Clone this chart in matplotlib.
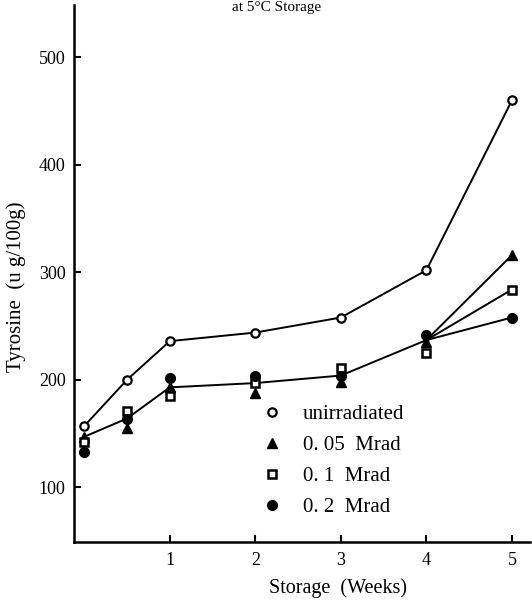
import matplotlib
matplotlib.use("Agg")
import matplotlib.pyplot as plt

# ---- data ----
weeks = [0, 0.5, 1, 2, 3, 4, 5]
unirradiated = [157, 200, 236, 244, 258, 302, 460]
mrad_005 = [147, 155, 193, 188, 198, 235, 316]
mrad_01 = [142, 171, 185, 197, 211, 225, 284]
mrad_02 = [133, 164, 202, 204, 204, 242, 258]
# common line drawn through the irradiated samples up to week 4
irr_weeks = [0, 0.5, 1, 2, 3, 4]
irr_line = [147, 164, 193, 197, 204, 237]

labels = ["unirradiated", "0. 05  Mrad", "0. 1  Mrad", "0. 2  Mrad"]
xticks = [1, 2, 3, 4, 5]
yticks = [100, 200, 300, 400, 500]

serif = ["Liberation Serif", "DejaVu Serif"]

fig = plt.figure(figsize=(5.32, 6.03), dpi=100)
ax = fig.add_axes([0.139, 0.101, 0.857, 0.891])

lw = 1.4
ax.plot(weeks, unirradiated, color="black", lw=lw, zorder=2)
ax.plot(irr_weeks, irr_line, color="black", lw=lw, zorder=2)
for series in (mrad_005, mrad_01, mrad_02):
    ax.plot([irr_weeks[-1], weeks[-1]], [irr_line[-1], series[-1]],
            color="black", lw=lw, zorder=2)

h0, = ax.plot(weeks, unirradiated, ls="none", marker="o", ms=6,
              mfc="white", mec="black", mew=1.6, zorder=3)
h1, = ax.plot(weeks, mrad_005, ls="none", marker="^", ms=7,
              mfc="black", mec="black", zorder=3)
h2, = ax.plot(weeks, mrad_01, ls="none", marker="s", ms=5.5,
              mfc="white", mec="black", mew=1.8, zorder=3)
h3, = ax.plot(weeks, mrad_02, ls="none", marker="o", ms=7,
              mfc="black", mec="black", zorder=3)

ax.set_xlim(-0.12, 5.21)
ax.set_ylim(49, 549)

for s in ("top", "right"):
    ax.spines[s].set_visible(False)
for s in ("left", "bottom"):
    ax.spines[s].set_linewidth(1.8)

ax.set_xticks(xticks)
ax.set_yticks(yticks)
ax.set_xticklabels([str(t) for t in xticks], family=serif, fontsize=13)
ax.set_yticklabels([str(t) for t in yticks], family=serif, fontsize=13)
ax.tick_params(direction="in", length=5, width=1.5)
ax.tick_params(axis="x", pad=7)
ax.tick_params(axis="y", pad=6)

ax.set_xlabel("Storage  (Weeks)", family=serif, fontsize=14.5)
ax.xaxis.set_label_coords(0.58, -0.068)
ax.set_ylabel("Tyrosine  (u g/100g)", family=serif, fontsize=15)
ax.yaxis.set_label_coords(-0.105, 0.475)

leg = ax.legend([h0, h1, h2, h3], labels, loc="upper left",
                bbox_to_anchor=(0.37, 0.291), frameon=False,
                handlelength=1.0, handletextpad=1.0, labelspacing=0.55,
                prop={"family": serif, "size": 15})

fig.text(0.52, 0.999, "at 5°C Storage", ha="center", va="top",
         family=serif, fontsize=11)

fig.savefig("out.png", dpi=100)
